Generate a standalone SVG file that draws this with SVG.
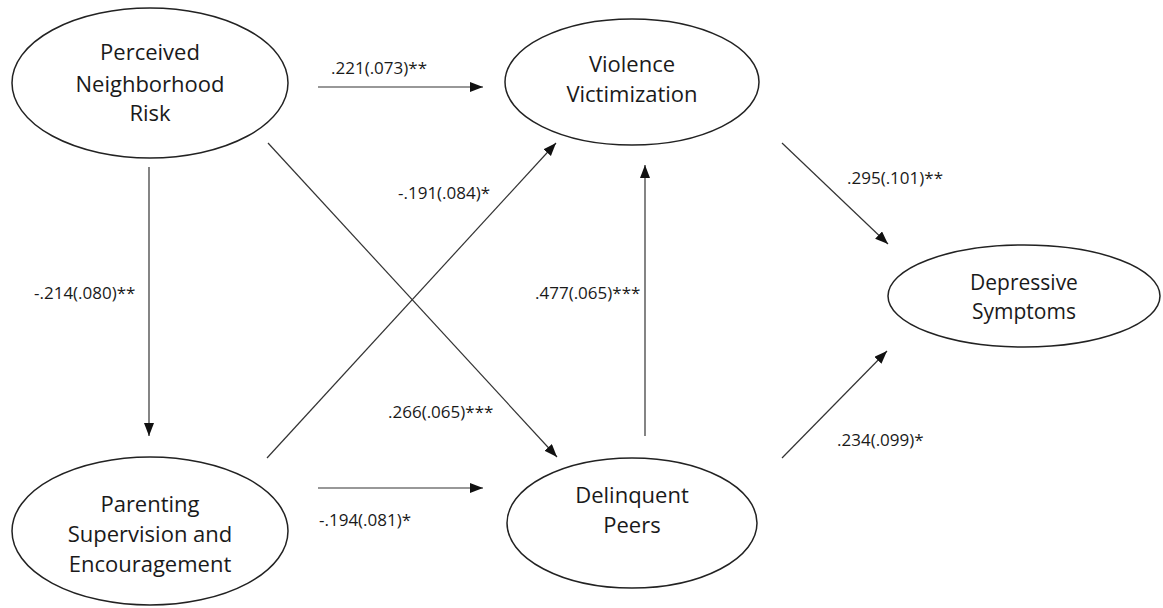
<svg xmlns="http://www.w3.org/2000/svg" width="1163" height="608" viewBox="0 0 1163 608">
<style>
.node ellipse{fill:#fff;stroke:#222;stroke-width:1.5}
.node text{font-family:"Open Sans","Liberation Sans",sans-serif;font-size:22px;fill:#1a1a1a;text-anchor:middle}
.node text.sm{font-size:21px}
.edges line{stroke:#333;stroke-width:1.2;marker-end:url(#ah)}
.lbl{font-family:"Open Sans","Liberation Sans",sans-serif;font-size:17px;fill:#1a1a1a}
</style>
<defs>
<marker id="ah" markerUnits="userSpaceOnUse" markerWidth="14" markerHeight="12" refX="13" refY="5" orient="auto">
<path d="M0,0 L13,5 L0,10 Z" fill="#111"/>
</marker>
</defs>
<rect width="1163" height="608" fill="#fff"/>
<g class="edges">
<line x1="318" y1="87" x2="483" y2="87"/>
<line x1="149" y1="167" x2="149" y2="436"/>
<line x1="268" y1="143" x2="557" y2="457"/>
<line x1="267" y1="458" x2="556" y2="143"/>
<line x1="318" y1="488" x2="483" y2="488"/>
<line x1="645" y1="436" x2="645" y2="165"/>
<line x1="782" y1="143" x2="888" y2="244"/>
<line x1="782" y1="458" x2="887" y2="351"/>
<text class="lbl" x="331" y="74">.221(.073)**</text>
<text class="lbl" x="34" y="299">-.214(.080)**</text>
<text class="lbl" x="388" y="418">.266(.065)***</text>
<text class="lbl" x="398" y="199">-.191(.084)*</text>
<text class="lbl" x="319" y="526">-.194(.081)*</text>
<text class="lbl" x="535" y="299">.477(.065)***</text>
<text class="lbl" x="847" y="184">.295(.101)**</text>
<text class="lbl" x="837" y="446">.234(.099)*</text>
</g>
<g class="node" id="n-risk">
<ellipse cx="150" cy="83" rx="138" ry="75"/>
<text x="150" y="60">Perceived</text>
<text x="150" y="92">Neighborhood</text>
<text x="150" y="121">Risk</text>
</g>
<g class="node" id="n-parent">
<ellipse cx="150" cy="531" rx="138" ry="74"/>
<text x="150" y="512">Parenting</text>
<text x="150" y="542">Supervision and</text>
<text x="150" y="572">Encouragement</text>
</g>
<g class="node" id="n-viol">
<ellipse cx="632" cy="82" rx="127" ry="63"/>
<text x="632" y="72">Violence</text>
<text x="632" y="102">Victimization</text>
</g>
<g class="node" id="n-delinq">
<ellipse cx="632" cy="523" rx="125" ry="65"/>
<text x="632" y="503">Delinquent</text>
<text x="632" y="533">Peers</text>
</g>
<g class="node" id="n-dep">
<ellipse cx="1024" cy="296" rx="136" ry="51"/>
<text class="sm" x="1024" y="290">Depressive</text>
<text class="sm" x="1024" y="319">Symptoms</text>
</g>
</svg>
